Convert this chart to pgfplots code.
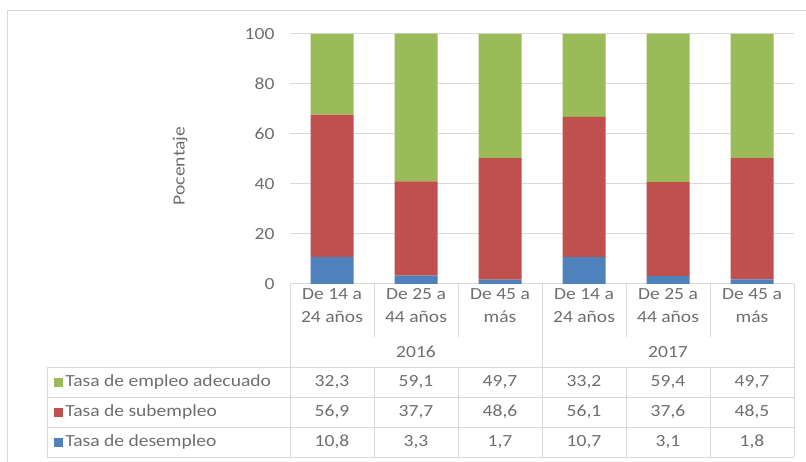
\documentclass[border=0pt]{standalone}
\usepackage{fontspec}
\setmainfont{Carlito}[FakeStretch=1.15]
\usepackage{pgfplots}
\usepackage{pgfplotstable}
\pgfplotsset{compat=1.18}

\definecolor{verde}{HTML}{9BBB59}
\definecolor{rojo}{HTML}{C0504D}
\definecolor{azul}{HTML}{4F81BD}
\definecolor{texto}{HTML}{6E6E6E}
\definecolor{linea}{HTML}{D9D9D9}

% x: categoria; d: desempleo, s: subempleo, e: empleo adecuado
\pgfplotstableread{
x d s e
0 10.8 56.9 32.3
1 3.3 37.7 59.1
2 1.7 48.6 49.7
3 10.7 56.1 33.2
4 3.1 37.6 59.4
5 1.8 48.5 49.7
}\datos

\begin{document}
\begin{tikzpicture}[x=1pt,y=1pt,font=\fontsize{17}{23}\selectfont\color{texto}]
\path[use as bounding box] (0,0) rectangle (806,-462);

% marco exterior
\draw[linea, line width=1pt] (7,-462) -- (7,-11) -- (806,-11);

\begin{axis}[
    at={(290pt,-284pt)}, anchor=south west,
    scale only axis, width=504pt, height=250pt,
    ybar stacked, bar width=43pt,
    xmin=-0.5, xmax=5.5, ymin=0, ymax=100,
    ytick={0,20,...,100}, xtick={0,...,5},
    xticklabels={{De 14 a\\24 años},{De 25 a\\44 años},{De 45 a\\más},
                 {De 14 a\\24 años},{De 25 a\\44 años},{De 45 a\\más}},
    xticklabel style={align=center, font=\fontsize{17}{23}\selectfont, text=texto, yshift=-1pt},
    yticklabel style={font=\fontsize{17}{20}\selectfont, text=texto, xshift=-12pt},
    /pgf/number format/assume math mode=true,
    major tick length=0pt,
    axis line style={draw=none},
    ymajorgrids, grid style={linea, line width=1pt},
    ylabel={Pocentaje},
    every axis y label/.style={at={(axis description cs:-0.218,0.472)}, rotate=90, anchor=center, font=\fontsize{17}{20}\selectfont, text=texto},
    clip=false,
]
\addplot[fill=azul, draw=none] table[x=x, y=d] {\datos};
\addplot[fill=rojo, draw=none] table[x=x, y=s] {\datos};
\addplot[fill=verde, draw=none] table[x=x, y=e] {\datos};
\end{axis}

% valores de la tabla
\begin{axis}[
    at={(290pt,-284pt)}, anchor=south west,
    scale only axis, width=504pt, height=250pt,
    xmin=-0.5, xmax=5.5, ymin=0, ymax=100,
    hide axis, clip=false,
    /pgf/number format/.cd, fixed, fixed zerofill, precision=1, use comma, assume math mode=true,
    /pgfplots/.cd,
    nodes near coords, nodes near coords align={center},
    every node near coord/.style={font=\fontsize{17}{20}\selectfont, text=texto},
]
\addplot[draw=none, mark=none, point meta=explicit] table[x=x, y expr=-39.2, meta=e] {\datos};
\addplot[draw=none, mark=none, point meta=explicit] table[x=x, y expr=-51.2, meta=s] {\datos};
\addplot[draw=none, mark=none, point meta=explicit] table[x=x, y expr=-63.2, meta=d] {\datos};
\end{axis}

% lineas de la tabla
\begin{scope}[linea, line width=1pt]
\draw (290,-284) -- (290,-457);
\draw (542,-284) -- (542,-457);
\draw (794,-284) -- (794,-457);
\foreach \xx in {374,458,626,710} {
  \draw (\xx,-284) -- (\xx,-337);
  \draw (\xx,-367) -- (\xx,-457);
}
\draw (47,-367) -- (47,-457);
\foreach \yy in {367,397,427,457} \draw (47,-\yy) -- (794,-\yy);
\end{scope}

% años
\node at (416,-352) {2016};
\node at (668,-352) {2017};

% leyenda en la tabla
\node[anchor=west] at (50,-382) {\textcolor{verde}{\rule{9pt}{9pt}}\,Tasa de empleo adecuado};
\node[anchor=west] at (50,-412) {\textcolor{rojo}{\rule{9pt}{9pt}}\,Tasa de subempleo};
\node[anchor=west] at (50,-442) {\textcolor{azul}{\rule{9pt}{9pt}}\,Tasa de desempleo};
\end{tikzpicture}
\end{document}
